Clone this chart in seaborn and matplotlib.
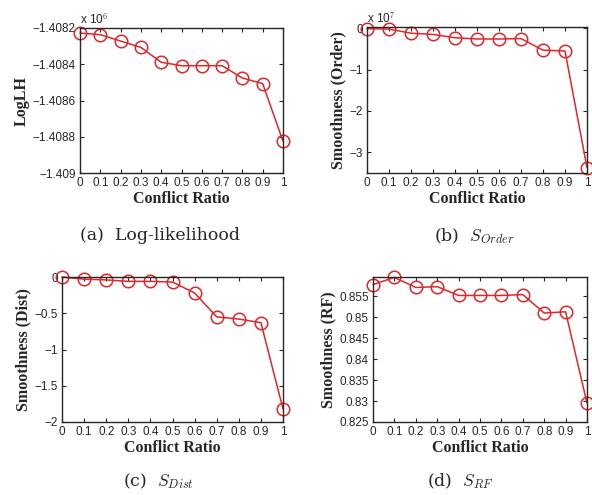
import matplotlib
matplotlib.use("Agg")
import matplotlib.pyplot as plt
import seaborn as sns

# ---- data ----
conflict_ratio = [0, 0.1, 0.2, 0.3, 0.4, 0.5, 0.6, 0.7, 0.8, 0.9, 1.0]

# log-likelihood, in units of 1e6
loglh_e6 = [-1.408228, -1.408237, -1.408272, -1.408307, -1.408389, -1.408408,
            -1.408408, -1.408408, -1.408476, -1.408507, -1.408825]
# smoothness (order), in units of 1e7
s_order_e7 = [-0.01, -0.02, -0.12, -0.15, -0.23, -0.26, -0.26, -0.25, -0.53, -0.55, -3.37]
s_dist = [0.0, -0.03, -0.04, -0.06, -0.06, -0.07, -0.22, -0.55, -0.58, -0.63, -1.82]
s_rf = [0.8578, 0.8595, 0.8571, 0.8573, 0.8552, 0.8552, 0.8552, 0.8554, 0.8510, 0.8513, 0.8295]

x_ticks = [0, 0.1, 0.2, 0.3, 0.4, 0.5, 0.6, 0.7, 0.8, 0.9, 1]
x_ticklabels = ["0", "0.1", "0.2", "0.3", "0.4", "0.5", "0.6", "0.7", "0.8", "0.9", "1"]

RED = "#e0262a"

sns.set_style("ticks")
plt.rcParams["font.family"] = ["Liberation Sans", "DejaVu Sans"]
plt.rcParams["mathtext.fontset"] = "cm"
plt.rcParams["xtick.direction"] = "in"
plt.rcParams["ytick.direction"] = "in"

fig = plt.figure(figsize=(5.92, 4.95), dpi=100)
W, H = 592.0, 495.0


def add_axes(left, top, right, bottom):
    return fig.add_axes([left / W, 1 - bottom / H, (right - left) / W, (bottom - top) / H])


panels = [
    # (box px, y values, ylim, yticks, ylabels, ylabel, offset text, caption, caption xy)
    ((80, 28, 283, 173), loglh_e6, (-1.409, -1.4082),
     [-1.409, -1.4088, -1.4086, -1.4084, -1.4082],
     ["\u22121.409", "\u22121.4088", "\u22121.4086", "\u22121.4084", "\u22121.4082"],
     "LogLH", "x 10$^6$", "(a)  Log-likelihood", (160, 236)),
    ((367, 27, 587, 173), s_order_e7, (-3.5, 0.03),
     [-3, -2, -1, 0],
     ["\u22123", "\u22122", "\u22121", "0"],
     "Smoothness (Order)", "x 10$^7$", "(b)  $S_{Order}$", (474, 236)),
    ((62, 277, 283, 422), s_dist, (-2, 0.0),
     [-2, -1.5, -1, -0.5, 0],
     ["\u22122", "\u22121.5", "\u22121", "\u22120.5", "0"],
     "Smoothness (Dist)", None, "(c)  $S_{Dist}$", (158, 481)),
    ((373, 277, 587, 422), s_rf, (0.825, 0.8596),
     [0.825, 0.83, 0.835, 0.84, 0.845, 0.85, 0.855],
     ["0.825", "0.83", "0.835", "0.84", "0.845", "0.85", "0.855"],
     "Smoothness (RF)", None, "(d)  $S_{RF}$", (460, 481)),
]

for box, yvals, ylim, yticks, ylabels, ylabel, offset, caption, cap_xy in panels:
    ax = add_axes(*box)
    sns.lineplot(x=conflict_ratio, y=yvals, ax=ax, color=RED, linewidth=1.1,
                 marker="o", markersize=9, markerfacecolor="none",
                 markeredgecolor=RED, markeredgewidth=1.1, clip_on=False)
    ax.set_xlim(0, 1)
    ax.set_ylim(*ylim)
    ax.set_xticks(x_ticks)
    ax.set_xticklabels(x_ticklabels)
    ax.set_yticks(yticks)
    ax.set_yticklabels(ylabels)
    ax.tick_params(labelsize=8.5, length=3, width=0.8, top=True, right=True, pad=3)
    for sp in ax.spines.values():
        sp.set_linewidth(1.0)
        sp.set_visible(True)
    ax.set_xlabel("Conflict Ratio", fontfamily="Liberation Serif", fontweight="bold",
                  fontsize=11.5, labelpad=1)
    ax.set_ylabel(ylabel, fontfamily="Liberation Serif", fontweight="bold",
                  fontsize=11.5, labelpad=2)
    if offset:
        ax.text(0.0, 1.01, offset, transform=ax.transAxes, fontsize=8.5,
                ha="left", va="bottom")
    fig.text(cap_xy[0] / W, 1 - cap_xy[1] / H, caption, fontfamily="DejaVu Serif",
             fontsize=12.5, ha="center", va="center")

fig.savefig("out.png", dpi=100)
